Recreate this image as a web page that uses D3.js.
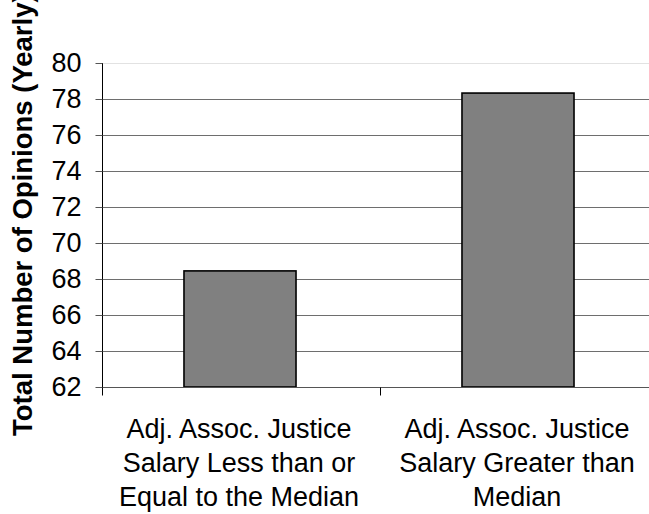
<!DOCTYPE html>
<html><head><meta charset="utf-8">
<script src="https://cdn.jsdelivr.net/npm/d3@7"></script>
<style>body{margin:0;background:#fff}svg{display:block}text{font-family:"Liberation Sans",Arial,sans-serif}</style>
</head><body>
<svg id="c" width="649" height="514"></svg>
<script>
const categories = [
  ["Adj. Assoc. Justice", "Salary Less than or", "Equal to the Median"],
  ["Adj. Assoc. Justice", "Salary Greater than", "Median"]
];
const values = [68.45, 78.33];
const yTicks = [62, 64, 66, 68, 70, 72, 74, 76, 78, 80];
const yTitle = "Total Number of Opinions (Yearly)";

(function () {
const svg = d3.select("#c");
const pL = 102, pR = 658, pT = 63, pB = 387;
const x = d3.scaleBand().domain(d3.range(categories.length)).range([pL, pR]).padding(0);
const y = d3.scaleLinear().domain([62, 80]).range([pB, pT]);

// gridlines
svg.append("g").selectAll("line").data(yTicks.filter(d => d > 62)).join("line")
  .attr("x1", pL).attr("x2", 660)
  .attr("y1", d => Math.round(y(d)) + 0.5).attr("y2", d => Math.round(y(d)) + 0.5)
  .attr("stroke", d => d === 80 ? "#e2e2e2" : "#6e6e6e").attr("stroke-width", 1);

// bars
const bw = x.bandwidth() * 0.403;
svg.append("g").selectAll("rect").data(values).join("rect")
  .attr("x", (d, i) => x(i) + x.bandwidth() / 2 - bw / 2 - 1)
  .attr("y", d => y(d))
  .attr("width", bw)
  .attr("height", d => y(62) - y(d))
  .attr("fill", "#808080").attr("stroke", "#000").attr("stroke-width", 1.6);

// y axis
const ya = svg.append("g").attr("transform", `translate(${pL + 0.5},0)`)
  .call(d3.axisLeft(y).tickValues(yTicks).tickSize(7).tickPadding(14).tickFormat(d3.format("d")));
ya.select(".domain").attr("stroke", "#000").attr("d", `M0,${pT}V${pB + 8}`);
ya.selectAll(".tick line").attr("stroke", "#555");
ya.selectAll(".tick text").attr("font-size", 27).attr("fill", "#000").attr("font-family", '"Liberation Sans",Arial,sans-serif');

// x axis
const xa = svg.append("g").attr("transform", `translate(0,${pB + 0.5})`);
xa.append("line").attr("x1", pL).attr("x2", 660).attr("stroke", "#555");
xa.selectAll(".xt").data(d3.range(categories.length + 1)).join("line")
  .attr("x1", i => Math.round(pL + i * x.step()) + 0.5).attr("x2", i => Math.round(pL + i * x.step()) + 0.5)
  .attr("y1", 0).attr("y2", 8).attr("stroke", "#000");

// category labels
svg.append("g").selectAll("text").data(categories).join("text")
  .attr("text-anchor", "middle").attr("font-size", 27).attr("fill", "#000")
  .each(function(lines, i) {
    const t = d3.select(this);
    lines.forEach((ln, k) => t.append("tspan")
      .attr("x", x(i) + x.bandwidth() / 2 - 2).attr("y", 438 + k * 34).text(ln));
  });

// y title
svg.append("text").attr("transform", "translate(32,436) rotate(-90)")
  .attr("text-anchor", "start").attr("font-size", 27.5).attr("font-weight", "bold").attr("fill", "#000")
  .text(yTitle);
})();
</script>
</body></html>
